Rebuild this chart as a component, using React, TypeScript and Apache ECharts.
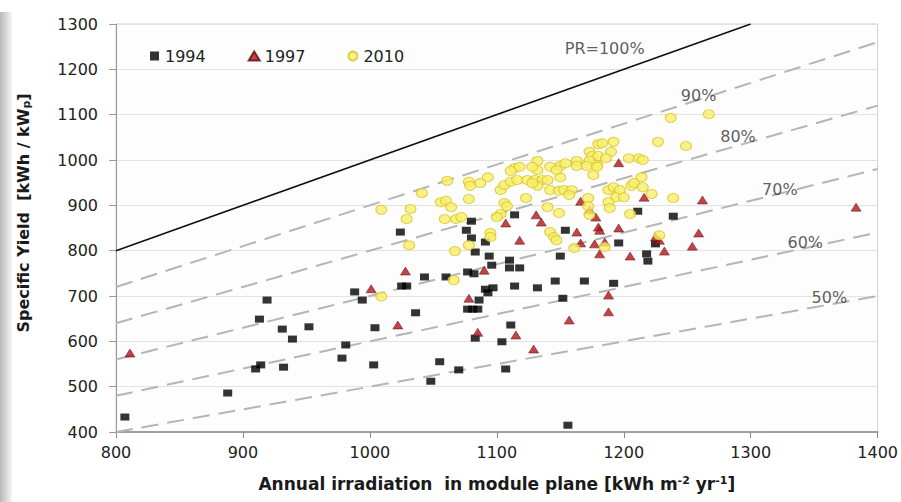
import React, { useEffect, useRef } from 'react';
import * as echarts from 'echarts';

// Annual irradiation [kWh/m2/yr], specific yield [kWh/kWp]
const pts1994: number[][] = [
  [807, 433], [888, 486], [910, 539], [914, 548], [932, 543], [913, 649], [919, 691], [931, 627],
  [939, 605], [952, 632], [978, 563], [981, 592], [988, 709], [994, 691], [1004, 630], [1003, 548],
  [1025, 722], [1029, 722], [1036, 663], [1043, 742], [1048, 512], [1055, 555], [1060, 742],
  [1024, 841], [1080, 865], [1076, 845], [1080, 828], [1091, 819], [1083, 797], [1094, 788],
  [1096, 768], [1110, 779], [1110, 762], [1118, 762], [1077, 753], [1082, 749], [1114, 879],
  [1070, 537], [1091, 715], [1093, 707], [1097, 718], [1114, 722], [1086, 691], [1077, 671],
  [1081, 671], [1085, 671], [1111, 636], [1083, 607], [1104, 599], [1107, 539], [1132, 718],
  [1146, 733], [1150, 788], [1152, 695], [1169, 733], [1192, 728], [1218, 793], [1219, 777],
  [1156, 415], [1196, 817], [1225, 815], [1211, 887], [1154, 845], [1239, 876],
];

const pts1997: number[][] = [
  [811, 574], [1001, 716], [1028, 755], [1022, 636], [1090, 757], [1107, 861], [1078, 695],
  [1085, 620], [1115, 614], [1129, 583], [1157, 647], [1188, 702], [1188, 665], [1181, 793],
  [1205, 788], [1232, 799], [1166, 817], [1177, 815], [1185, 819], [1196, 994], [1216, 918],
  [1166, 909], [1131, 879], [1135, 863], [1173, 890], [1178, 874], [1180, 852], [1181, 845],
  [1163, 841], [1196, 850], [1118, 823], [1225, 830], [1228, 823], [1262, 912], [1383, 896],
  [1259, 839], [1254, 810],
];

const pts2010: number[][] = [
  [1009, 699], [1009, 890], [1032, 892], [1029, 870], [1041, 927], [1061, 954], [1056, 907],
  [1060, 910], [1064, 896], [1059, 870], [1068, 870], [1072, 874], [1078, 952], [1079, 943],
  [1087, 949], [1093, 962], [1078, 914], [1031, 812], [1067, 799], [1078, 812], [1095, 839],
  [1095, 830], [1066, 735], [1103, 934], [1106, 945], [1111, 952], [1114, 982], [1111, 976],
  [1106, 905], [1108, 898], [1103, 881], [1100, 874],
  [1237, 1093], [1227, 1040], [1192, 1040], [1180, 1035], [1183, 1037], [1190, 1018], [1173, 1018],
  [1175, 1009], [1180, 1009], [1186, 1004], [1179, 989], [1173, 998], [1204, 1004], [1212, 1004],
  [1215, 1000], [1132, 998], [1132, 978], [1128, 985], [1142, 985], [1150, 987], [1154, 993],
  [1163, 998], [1163, 987], [1171, 987], [1179, 985], [1118, 985], [1116, 956], [1124, 956],
  [1130, 956], [1136, 956], [1140, 956], [1150, 962], [1147, 978], [1132, 943], [1128, 949],
  [1176, 967], [1142, 934], [1149, 932], [1153, 934], [1159, 934], [1157, 923], [1206, 943],
  [1208, 949], [1214, 962], [1215, 940], [1188, 934], [1192, 940], [1197, 934], [1194, 918],
  [1200, 918], [1222, 925], [1239, 916], [1188, 907], [1189, 894], [1123, 916], [1172, 916],
  [1140, 896], [1149, 883], [1172, 898], [1173, 879], [1205, 881], [1142, 841], [1145, 830],
  [1147, 823], [1228, 834], [1267, 1101], [1249, 1031], [1161, 806], [1185, 808],
];

// performance ratio reference lines
const prLevels = [0.9, 0.8, 0.7, 0.6, 0.5];
const prLabels = ['PR=100%', '90%', '80%', '70%', '60%', '50%'];
const prLabelAnchors: number[][] = [
  [1185, 1245], [1259, 1143], [1290, 1051], [1323, 936], [1343, 817], [1362, 696],
];

const xMin = 800;
const xMax = 1400;

const FONT = 'DejaVu Sans';

export default function App() {
  const ref = useRef<HTMLDivElement>(null);
  useEffect(() => {
    document.body.style.margin = '0';
    const chart = echarts.init(ref.current!, null, { renderer: 'svg' });

    const dashedSeries = prLevels.map((p) => ({
      type: 'line',
      name: 'PR' + p,
      data: [[xMin, p * xMin], [xMax, p * xMax]],
      symbol: 'none',
      silent: true,
      z: 1,
      lineStyle: { color: '#b5b5b5', width: 2, type: [17, 9] },
    }));

    const option: any = {
      animation: false,
      backgroundColor: '#ffffff',
      textStyle: { fontFamily: FONT },
      grid: {
        left: 116, right: 14, top: 24, bottom: 70,
        show: true, borderColor: '#d0d0d0', borderWidth: 1, backgroundColor: '#fdfdfd',
      },
      legend: {
        data: [
          { name: '1994', icon: 'path://M0,0h10v10h-10z' },
          { name: '1997', icon: 'triangle' },
          { name: '2010', icon: 'circle' },
        ],
        left: 145, top: 43,
        itemWidth: 11, itemHeight: 9, itemGap: 42,
        textStyle: { fontSize: 16, color: '#222', fontFamily: FONT },
      },
      xAxis: {
        type: 'value', min: 800, max: 1400, interval: 100,
        name: 'Annual irradiation  in module plane [kWh m{sup|-2} yr{sup|-1}]',
        nameLocation: 'middle', nameGap: 43,
        nameTextStyle: {
          fontSize: 17, fontWeight: 'bold', color: '#1a1a1a', fontFamily: FONT,
          rich: {
            sup: { fontSize: 11, fontWeight: 'bold', color: '#1a1a1a', verticalAlign: 'top', padding: [0, 0, 7, 0] },
          },
        },
        axisLine: { lineStyle: { color: '#888', width: 1.5 } },
        axisTick: { length: 6, lineStyle: { color: '#888' } },
        axisLabel: { fontSize: 16, color: '#222', margin: 12, formatter: (v: number) => String(v) },
        splitLine: { show: false },
      },
      yAxis: {
        type: 'value', min: 400, max: 1300, interval: 100,
        name: 'Specific Yield  [kWh / kW{sub|p}]',
        nameLocation: 'middle', nameGap: 84,
        nameTextStyle: {
          fontSize: 16, fontWeight: 'bold', color: '#1a1a1a', fontFamily: FONT, padding: [0, 0, 0, 30],
          rich: {
            sub: { fontSize: 11, fontWeight: 'bold', color: '#1a1a1a', verticalAlign: 'bottom', padding: [6, 0, 0, 0] },
          },
        },
        axisLine: { show: true, lineStyle: { color: '#999' } },
        axisTick: { show: true, length: 7, lineStyle: { color: '#999' } },
        axisLabel: { fontSize: 16, color: '#222', margin: 18, formatter: (v: number) => String(v) },
        splitLine: { lineStyle: { color: '#e2e2e2' } },
      },
      graphic: [
        {
          type: 'rect', shape: { x: 0, y: 12, width: 12, height: 490 }, silent: true, z: -10,
          style: {
            fill: new echarts.graphic.LinearGradient(0, 0, 1, 0, [
              { offset: 0, color: '#b9b9b9' }, { offset: 1, color: '#f5f5f5' },
            ]),
          },
        },
      ],
      series: [
        {
          type: 'line', name: 'PR1.0', data: [[800, 800], [1300, 1300]], symbol: 'none', silent: true, z: 1,
          lineStyle: { color: '#111', width: 1.6 },
        },
        ...dashedSeries,
        {
          type: 'scatter', name: 'labels', silent: true, z: 2, symbolSize: 0,
          data: prLabelAnchors.map((a, i) => [a[0], a[1], prLabels[i]]),
          label: {
            show: true, position: 'inside', formatter: (p: any) => p.data[2],
            fontSize: 16, color: '#333', fontFamily: FONT,
          },
        },
        {
          type: 'scatter', name: '1994', data: pts1994, symbol: 'rect', symbolSize: [9, 7], z: 3,
          itemStyle: { color: '#000' },
        },
        {
          type: 'scatter', name: '1997', data: pts1997, symbol: 'triangle', symbolSize: [10, 8], z: 3,
          itemStyle: { color: '#b3141c', borderColor: '#5a0808', borderWidth: 0.6 },
        },
        {
          type: 'scatter', name: '2010', data: pts2010, symbol: 'circle', symbolSize: [11, 9], z: 3,
          itemStyle: { color: '#f9ef6c', borderColor: '#d6c41e', borderWidth: 1 },
        },
      ],
    };
    chart.setOption(option);
    return () => chart.dispose();
  }, []);
  return <div ref={ref} style={{ width: 901, height: 502 }} />;
}
